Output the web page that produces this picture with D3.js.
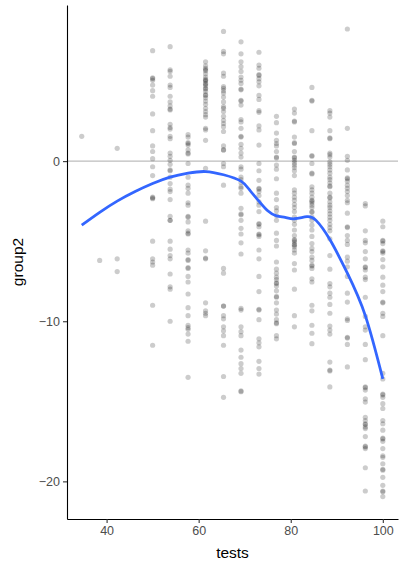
<!DOCTYPE html>
<html>
<head>
<meta charset="utf-8">
<script src="https://cdn.jsdelivr.net/npm/d3@7"></script>
<style>
  body { margin: 0; background: #fff; }
  svg { display: block; font-family: "Liberation Sans", Arial, sans-serif; }
</style>
</head>
<body>
<svg id="chart" width="399" height="562"></svg>
<script>
// tests levels (k/26*100) and the group2 values
const y34 = [1.55];
const y38 = [-6.2];
const y42 = [0.8, -6.1, -6.9];
const y50 = [6.9, 5.2, 5.15, 5.05, 4.75, 4.4, 4.05, 2.95, 1.9, 0.95, 0.6, 0.15, -0.35, -0.9, -2.25, -2.3, -2.35, -5.0, -6.1, -6.3, -6.5, -9.0, -11.5];
const y54 = [7.15, 5.7, 5.6, 5.3, 4.75, 4.6, 4.05, 3.7, 3.45, 3.25, 3.2, 2.3, 2.1, 2.0, 1.55, 1.4, 0.5, 0.3, 0.05, -0.2, -0.55, -0.6, -1.0, -1.4, -1.75, -1.9, -2.4, -3.45, -3.7, -3.7, -5.0, -5.5, -5.9, -6.1, -7.05, -7.85, -8.0, -10.0];
const y58 = [1.65, 1.5, 1.15, 1.1, 1.0, 0.7, 0.5, 0.45, -0.15, -1.0, -1.5, -1.7, -2.0, -2.6, -2.75, -3.45, -3.5, -3.8, -4.35, -4.5, -4.55, -5.55, -5.75, -6.15, -6.2, -6.65, -6.7, -7.2, -7.55, -8.3, -9.15, -9.65, -10.25, -10.4, -10.5, -10.8, -11.25, -13.5];
const y62 = [6.2, 5.95, 5.8, 5.7, 5.65, 5.45, 5.25, 5.1, 5.05, 5.0, 4.85, 4.8, 4.7, 4.55, 4.5, 4.35, 4.15, 4.1, 3.95, 3.75, 3.55, 3.3, 3.1, 2.9, 2.75, 2.05, 1.95, 1.3, -0.45, -3.75, -5.6, -6.05, -6.1, -8.85, -9.35, -9.5, -9.65];
const y65 = [8.1, 6.85, 6.7, 5.5, 5.3, 4.65, 4.55, 4.4, 4.25, 4.0, 3.7, 3.4, 3.3, 3.1, 2.8, 2.55, 2.35, 2.15, 1.85, 0.95, 0.7, 0.7, -0.15, -0.35, -1.5, -6.7, -7.0, -9.05, -9.05, -9.65, -9.85, -10.35, -10.6, -10.9, -11.5, -13.45, -14.75];
const y69 = [7.45, 6.7, 6.2, 5.9, 5.6, 5.25, 5.05, 4.85, 4.5, 4.45, 3.8, 3.75, 3.5, 2.6, 2.45, 2.05, 1.5, 1.55, 1.05, 0.8, 0.5, 0.25, -0.35, -0.5, -1.0, -1.15, -1.35, -1.6, -1.7, -2.0, -2.95, -3.3, -3.35, -3.7, -4.2, -4.55, -5.1, -5.8, -9.2, -9.3, -10.35, -10.65, -10.9, -11.8, -12.25, -12.65, -12.95, -13.25, -14.35, -14.4];
const y73 = [6.8, 6.0, 5.8, 5.4, 5.35, 5.15, 4.95, 4.7, 4.1, 3.85, 3.15, 3.05, 2.2, 1.95, 1.0, -0.15, -0.6, -1.2, -1.7, -1.75, -1.9, -2.15, -2.55, -2.75, -3.15, -3.9, -3.95, -4.1, -4.55, -4.6, -4.7, -5.55, -6.1, -7.2, -8.15, -9.25, -9.3, -9.9, -11.1, -11.35, -11.6, -12.5, -12.95, -13.3];
const y77 = [2.8, 2.4, 1.75, 1.3, 1.1, 0.95, 0.6, 0.25, 0.2, -0.25, -0.5, -1.1, -2.0, -2.4, -2.9, -3.1, -3.4, -3.7, -4.5, -4.95, -5.3, -6.3, -6.75, -7.0, -7.25, -7.4, -7.6, -7.65, -7.8, -8.1, -8.45, -8.5, -8.85, -9.3, -9.55, -9.9, -10.1, -10.15, -10.9, -11.1];
const y81 = [3.25, 3.0, 2.45, 2.5, 1.5, 1.15, 1.1, 0.6, 0.25, 0.2, 0.05, -0.1, -0.25, -0.4, -0.6, -0.9, -1.8, -2.0, -2.25, -2.45, -2.7, -2.9, -3.15, -3.5, -3.7, -3.95, -4.3, -4.65, -4.9, -4.95, -5.05, -5.2, -5.25, -5.35, -5.55, -5.75, -6.4, -6.8, -8.0, -9.65, -10.35];
const y85 = [4.6, 3.8, 3.75, 1.9, 0.3, 0.35, -0.15, -0.75, -0.8, -1.6, -1.8, -2.0, -2.25, -2.45, -2.5, -2.6, -2.75, -2.9, -3.15, -3.2, -3.5, -3.7, -4.0, -4.3, -4.7, -5.15, -5.45, -5.65, -6.0, -6.2, -6.5, -6.55, -6.7, -7.35, -7.55, -9.0, -9.35, -10.25, -10.75, -11.4];
const y88 = [3.15, 3.0, 2.75, 1.9, 1.4, 1.45, 0.5, 0.4, 0.25, -0.05, -0.2, -0.35, -0.55, -0.75, -1.0, -1.15, -1.35, -1.55, -1.6, -2.0, -2.25, -2.3, -2.55, -2.75, -2.9, -3.1, -3.3, -3.5, -3.7, -3.95, -4.15, -4.35, -4.85, -5.9, -6.75, -7.65, -7.85, -8.25, -8.5, -8.95, -9.5, -10.3, -10.55, -10.8, -12.55, -13.05, -13.1, -14.1];
const y92 = [8.25, 2.05, 0.3, 0.05, -0.55, -1.05, -1.1, -1.25, -1.5, -1.7, -1.9, -2.15, -2.45, -2.6, -3.25, -4.1, -4.15, -4.65, -4.95, -5.2, -6.0, -6.25, -6.6, -7.2, -8.25, -8.8, -9.85, -9.95, -11.0, -11.05, -11.45, -12.85];
const y96 = [-2.65, -2.8, -4.35, -4.95, -5.1, -5.65, -6.1, -6.6, -6.65, -6.8, -7.25, -7.4, -8.5, -9.7, -10.35, -10.55, -11.45, -12.4, -14.1, -14.15, -14.3, -14.85, -15.05, -16.0, -16.2, -16.4, -16.45, -16.6, -16.7, -17.2, -17.8, -17.85, -17.95, -19.15, -20.6];
const y100 = [-3.75, -4.1, -4.95, -5.0, -5.15, -5.6, -5.65, -5.75, -6.15, -6.6, -7.25, -7.75, -8.15, -8.8, -8.85, -9.5, -9.7, -10.9, -13.25, -13.6, -14.55, -14.6, -14.75, -15.15, -15.45, -16.2, -16.4, -16.8, -17.3, -17.35, -17.5, -17.95, -18.4, -18.5, -18.9, -19.25, -19.3, -19.75, -20.25, -20.6, -20.65, -20.95];

const testLevels = [34.6, 38.5, 42.3, 50, 53.8, 57.7, 61.5, 65.4, 69.2, 73.1, 76.9, 80.8, 84.6, 88.5, 92.3, 96.2, 100];
const group2Columns = [y34, y38, y42, y50, y54, y58, y62, y65, y69, y73, y77, y81, y85, y88, y92, y96, y100];

// loess smooth
const smoothTests = [34.6, 38.5, 42.3, 46.2, 50, 53.8, 57.7, 61.5, 65.4, 69.2, 71.2, 73.1, 75, 76.9, 78.8, 80.8, 83.5, 85.5, 88.5, 92.3, 96.2, 100];
const smoothGroup2 = [-4.0, -3.2, -2.5, -1.9, -1.4, -1.0, -0.75, -0.65, -0.85, -1.25, -1.85, -2.5, -3.1, -3.42, -3.52, -3.6, -3.47, -3.7, -4.9, -7.0, -9.65, -13.6];

const xTicks = [40, 60, 80, 100];
const yTicks = [-20, -10, 0];

const svg = d3.select("#chart");
const W = 399, H = 562;
const margin = { top: 5, right: 1, bottom: 43, left: 67 };

const x = d3.scaleLinear().domain([31.4, 103.3]).range([margin.left, W - margin.right]);
const y = d3.scaleLinear().domain([-22.35, 9.75]).range([H - margin.bottom, margin.top]);

// reference line at zero
svg.append("line")
  .attr("x1", x.range()[0]).attr("x2", x.range()[1])
  .attr("y1", y(0)).attr("y2", y(0))
  .attr("stroke", "#bdbdbd")
  .attr("stroke-width", 1.1);

// points
const points = [];
testLevels.forEach((t, i) => group2Columns[i].forEach((v) => points.push({ tests: t, group2: v })));

svg.append("g")
  .selectAll("circle")
  .data(points)
  .enter()
  .append("circle")
  .attr("cx", (d) => x(d.tests))
  .attr("cy", (d) => y(d.group2))
  .attr("r", 2.6)
  .attr("fill", "#000")
  .attr("fill-opacity", 0.2);

// smooth line
const smooth = smoothTests.map((t, i) => [t, smoothGroup2[i]]);
svg.append("path")
  .datum(smooth)
  .attr("fill", "none")
  .attr("stroke", "#3366FF")
  .attr("stroke-width", 2.8)
  .attr("d", d3.line().x((d) => x(d[0])).y((d) => y(d[1])).curve(d3.curveNatural));

// axes
const xAxis = svg.append("g")
  .attr("transform", `translate(0,${H - margin.bottom})`)
  .call(d3.axisBottom(x).tickValues(xTicks).tickSize(4).tickSizeOuter(0).tickPadding(3));
const yAxis = svg.append("g")
  .attr("transform", `translate(${margin.left},0)`)
  .call(d3.axisLeft(y).tickValues(yTicks).tickSize(4).tickSizeOuter(0).tickPadding(3));

[xAxis, yAxis].forEach((g) => {
  g.select(".domain").attr("stroke", "#000").attr("stroke-width", 1.1);
  g.selectAll(".tick line").attr("stroke", "#333").attr("stroke-width", 1.1);
  g.selectAll(".tick text")
    .attr("fill", "#4d4d4d")
    .attr("font-size", 12.5)
    .attr("font-family", "Liberation Sans, Arial, sans-serif");
});

// axis titles
svg.append("text")
  .attr("x", (x.range()[0] + x.range()[1]) / 2)
  .attr("y", 558)
  .attr("text-anchor", "middle")
  .attr("font-size", 15.5)
  .text("tests");

svg.append("text")
  .attr("transform", `translate(23,${(y.range()[0] + y.range()[1]) / 2}) rotate(-90)`)
  .attr("text-anchor", "middle")
  .attr("font-size", 15.5)
  .text("group2");
</script>
</body>
</html>
